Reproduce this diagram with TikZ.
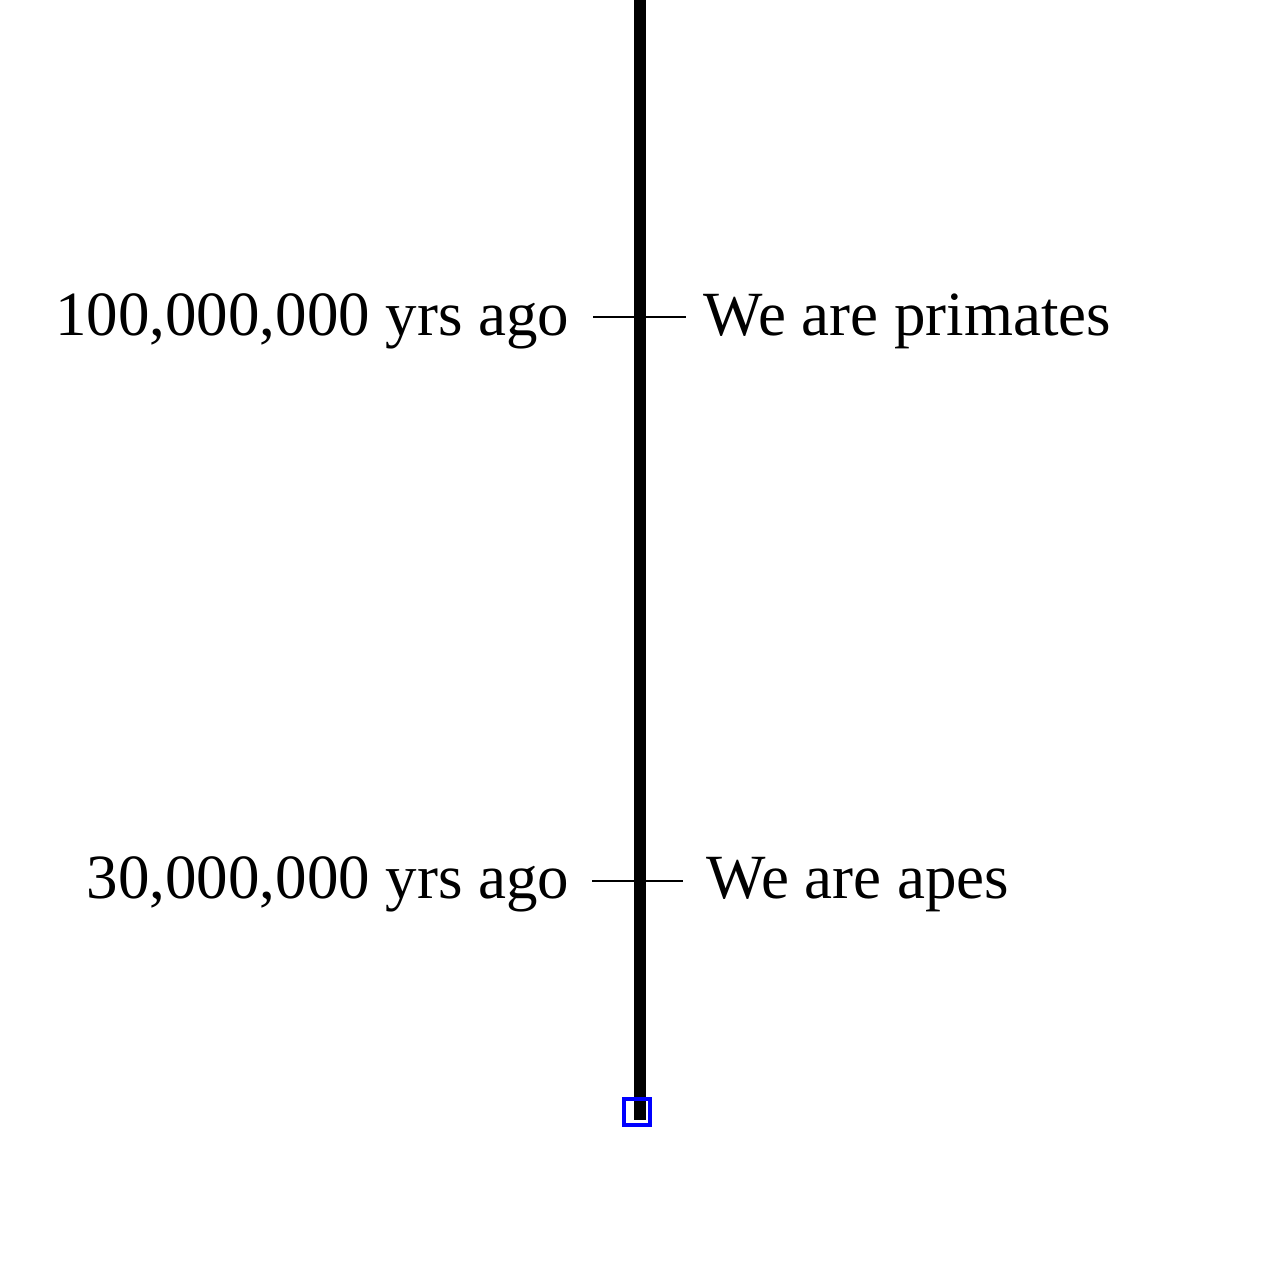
\documentclass[tikz,border=0pt]{standalone}
\usepackage{fontspec}
\setmainfont{Liberation Serif}
\begin{document}
\begin{tikzpicture}[x=0.01cm,y=-0.01cm,
  axis/.style={line width=3.41pt,black},
  tick/.style={line width=0.6pt,black},
  lbl/.style={inner sep=0pt,font=\fontsize{17.9}{20}\selectfont},
  marker/.style={draw=blue,line width=1.15pt,minimum size=0.26cm,inner sep=0pt}]
\useasboundingbox (0,0) rectangle (1280,1280);
\coordinate (top) at (640,0);
\coordinate (bot) at (640,1120);
\draw[axis] (top) -- (bot);
\node[marker] (end) at (637,1112) {};
\coordinate (t1l) at (593,317);
\coordinate (t1r) at (686,317);
\coordinate (t2l) at (592,881);
\coordinate (t2r) at (683,881);
\draw[tick] (t1l) -- (t1r);
\draw[tick] (t2l) -- (t2r);
\node[lbl,anchor=base east] (a1) at (570,336) {100,000,000 yrs ago};
\node[lbl,anchor=base west] (b1) at (703,336) {We are primates};
\node[lbl,anchor=base east] (a2) at (570,898) {30,000,000 yrs ago};
\node[lbl,anchor=base west] (b2) at (706,898) {We are apes};
\end{tikzpicture}
\end{document}
